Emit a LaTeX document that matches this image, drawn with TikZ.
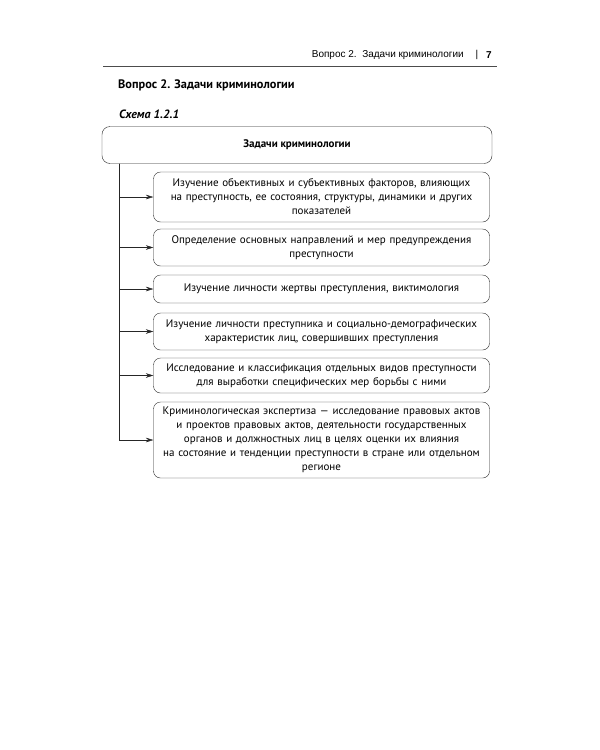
\documentclass[tikz,border=0pt]{standalone}
\usepackage{fontspec}
\setmainfont{PT Sans}
\newfontfamily\headfont{Liberation Sans}
\usetikzlibrary{arrows.meta, positioning}

\begin{document}
\begin{tikzpicture}[x=1pt, y=-1pt,
        task/.style={rectangle, draw=black!85, thin, rounded corners=7pt,
                  text width=326pt, align=center, inner xsep=5pt,
                  font=\fontsize{11}{14}\selectfont},
        head/.style={rectangle, draw=black!85, thin, rounded corners=8pt,
                  minimum width=390pt, minimum height=37pt,
                  font=\bfseries\fontsize{11}{13}\selectfont},
        arr/.style={-{Stealth[length=2.6mm,width=1.6mm]}, thin, black!85}]
      \useasboundingbox (0,0) rectangle (600,750);
      % running head
      \node[anchor=east, font=\headfont\fontsize{10}{12}\selectfont, inner sep=0] (rh) at (464,55) {Вопрос 2.\ \ Задачи криминологии};
      \node[font=\headfont\fontsize{10}{12}\selectfont, inner sep=0] (bar) at (477,55) {|};
      \node[font=\headfont\bfseries\fontsize{10}{12}\selectfont, inner sep=0] (pg) at (489,55) {7};
      \draw[black!70, line width=0.7pt] (103,66) -- (497,66);
      \node[anchor=west, font=\bfseries\fontsize{12.3}{14}\selectfont, inner sep=0] (title) at (118,85) {Вопрос 2. Задачи криминологии};
      \node[anchor=west, font=\bfseries\itshape\fontsize{12}{14}\selectfont, inner sep=0] (scheme) at (119,114) {Схема 1.2.1};
      % scheme
      \node[head] (tasks) at (297,145) {Задачи криминологии};
      \node[task, minimum height=50pt] (t1) at (321.5,197) {Изучение объективных и субъективных факторов, влияющих\\ на преступность, ее состояния, структуры, динамики и других\\ показателей};
      \node[task, minimum height=37pt] (t2) at (321.5,247.5) {Определение основных направлений и мер предупреждения\\ преступности};
      \node[task, minimum height=28pt] (t3) at (321.5,289) {Изучение личности жертвы преступления, виктимология};
      \node[task, minimum height=37pt] (t4) at (321.5,331.5) {Изучение личности преступника и социально-демографических\\ характеристик лиц, совершивших преступления};
      \node[task, minimum height=35pt] (t5) at (321.5,375.5) {Исследование и классификация отдельных видов преступности\\ для выработки специфических мер борьбы с ними};
      \node[task, minimum height=76pt] (t6) at (321.5,440) {Криминологическая экспертиза --- исследование правовых актов\\ и проектов правовых актов, деятельности государственных\\ органов и должностных лиц в целях оценки их влияния\\ на состояние и тенденции преступности в стране или отдельном\\ регионе};
      \coordinate (trunk) at (119,0);
      \foreach \t in {t1,t2,t3,t4,t5,t6}
        \draw[arr] (tasks.south -| trunk) |- (\t.west);
    \end{tikzpicture}
\end{document}
